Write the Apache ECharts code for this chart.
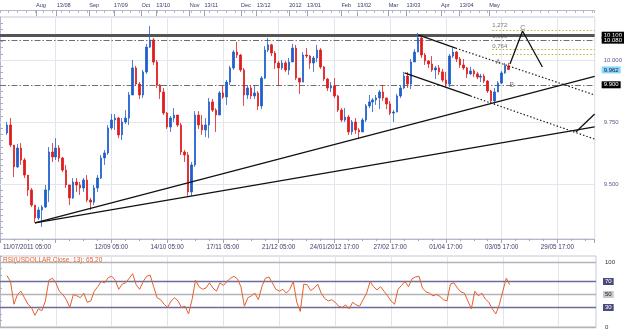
<!DOCTYPE html>
<html><head><meta charset="utf-8">
<script src="https://cdn.jsdelivr.net/npm/echarts@6.0.0/dist/echarts.min.js"></script>
<style>html,body{margin:0;padding:0;background:#fff;}#chart{width:625px;height:332px;}</style>
</head><body><div id="chart"></div>
<script>
// ---------- data (bar index starts at barStart) ----------
const barStart = 2;
const opens = [
9.706,9.738,9.657,9.569,9.645,9.597,9.536,9.476,9.415,9.363,
9.395,9.407,9.476,9.629,9.609,9.645,9.605,9.556,9.496,9.444,
9.508,9.496,9.484,9.516,9.435,9.427,9.484,9.524,9.605,9.625,
9.726,9.758,9.766,9.698,9.750,9.766,9.859,9.968,9.903,9.859,
9.952,10.052,10.081,9.992,9.899,9.871,9.786,9.730,9.766,9.778,
9.738,9.629,9.617,9.468,9.577,9.778,9.738,9.718,9.738,9.831,
9.798,9.778,9.867,9.851,9.911,9.968,10.032,10.020,9.960,9.859,
9.887,9.855,9.867,9.815,9.927,10.040,10.061,10.028,9.988,9.968,
9.988,9.960,9.992,10.048,9.927,9.911,10.020,10.016,9.988,10.008,
10.040,9.972,9.923,9.887,9.895,9.855,9.798,9.758,9.770,9.710,
9.750,9.718,9.710,9.758,9.815,9.831,9.839,9.847,9.871,9.847,
9.823,9.786,9.790,9.855,9.887,9.935,9.903,9.992,10.032,10.089,
10.020,9.996,9.984,9.960,9.968,9.952,9.919,9.903,10.016,10.032,
10.004,9.980,9.968,9.944,9.956,9.944,9.931,9.935,9.915,9.875,
9.835,9.871,9.907,9.948,9.976];
const closes = [
9.738,9.657,9.569,9.645,9.597,9.536,9.476,9.415,9.363,9.395,
9.407,9.476,9.629,9.609,9.645,9.605,9.556,9.496,9.444,9.508,
9.496,9.484,9.516,9.435,9.427,9.484,9.524,9.605,9.625,9.726,
9.758,9.766,9.698,9.750,9.766,9.859,9.968,9.903,9.859,9.952,
10.052,10.081,9.992,9.899,9.871,9.786,9.730,9.766,9.778,9.738,
9.629,9.617,9.468,9.577,9.778,9.738,9.718,9.738,9.831,9.798,
9.778,9.867,9.851,9.911,9.968,10.032,10.020,9.960,9.859,9.887,
9.855,9.867,9.815,9.927,10.040,10.061,10.028,9.988,9.968,9.988,
9.960,9.992,10.048,9.927,9.911,10.020,10.016,9.988,10.008,10.040,
9.972,9.923,9.887,9.895,9.855,9.798,9.758,9.770,9.710,9.750,
9.718,9.710,9.758,9.815,9.831,9.839,9.847,9.871,9.847,9.823,
9.786,9.790,9.855,9.887,9.935,9.903,9.992,10.032,10.089,10.020,
9.996,9.984,9.960,9.968,9.952,9.919,9.903,10.016,10.032,10.004,
9.980,9.968,9.944,9.956,9.944,9.931,9.935,9.915,9.875,9.835,
9.871,9.907,9.948,9.976,9.962];
const lows = [
9.698,9.649,9.528,9.565,9.577,9.524,9.452,9.407,9.343,9.355,
9.327,9.403,9.427,9.589,9.597,9.589,9.548,9.484,9.415,9.440,
9.468,9.456,9.468,9.427,9.395,9.415,9.468,9.520,9.577,9.617,
9.718,9.718,9.685,9.677,9.742,9.738,9.859,9.895,9.843,9.847,
9.944,10.048,9.980,9.887,9.843,9.778,9.722,9.710,9.750,9.730,
9.617,9.589,9.452,9.452,9.569,9.722,9.698,9.690,9.685,9.790,
9.710,9.778,9.843,9.819,9.899,9.960,10.008,9.952,9.815,9.843,
9.843,9.843,9.798,9.802,9.923,10.032,10.016,9.964,9.895,9.960,
9.952,9.940,9.992,9.919,9.863,9.911,10.008,9.964,9.952,9.992,
9.964,9.915,9.875,9.871,9.847,9.790,9.750,9.750,9.698,9.698,
9.702,9.681,9.710,9.750,9.806,9.790,9.819,9.802,9.835,9.802,
9.778,9.750,9.790,9.847,9.883,9.887,9.883,9.992,10.032,10.008,
9.980,9.968,9.952,9.923,9.940,9.911,9.891,9.891,10.008,9.992,
9.968,9.960,9.927,9.940,9.931,9.923,9.911,9.907,9.867,9.823,
9.819,9.871,9.903,9.944,9.960];
const highs = [
9.750,9.766,9.657,9.661,9.665,9.605,9.536,9.484,9.415,9.407,
9.415,9.496,9.649,9.665,9.685,9.657,9.609,9.577,9.496,9.524,
9.524,9.508,9.524,9.536,9.444,9.496,9.536,9.617,9.637,9.738,
9.782,9.782,9.770,9.766,9.798,9.871,10.000,9.976,9.911,9.960,
10.065,10.137,10.089,10.000,9.903,9.887,9.790,9.774,9.806,9.778,
9.746,9.637,9.629,9.589,9.794,9.794,9.778,9.766,9.847,9.843,
9.806,9.875,9.899,9.919,9.976,10.040,10.073,10.024,9.968,9.899,
9.899,9.899,9.875,9.935,10.056,10.089,10.065,10.036,9.996,10.000,
9.996,10.008,10.065,10.061,9.927,10.032,10.048,10.020,10.016,10.061,
10.048,9.976,9.927,9.911,9.927,9.859,9.806,9.806,9.778,9.758,
9.766,9.726,9.766,9.823,9.859,9.847,9.859,9.879,9.899,9.847,
9.835,9.798,9.863,9.899,9.952,9.952,10.004,10.044,10.109,10.097,
10.028,10.000,10.016,9.976,9.980,9.964,9.952,10.024,10.048,10.036,
10.012,10.004,9.972,9.972,9.964,9.952,9.944,9.944,9.919,9.879,
9.887,9.915,9.956,9.988,9.988];
const rsiValues = [
79,70,35,50,55,45,35,30,18,28,
25,40,72,75,68,55,50,42,30,50,
48,45,52,38,40,55,62,70,68,76,
78,72,58,66,68,75,82,65,58,70,
78,80,62,45,42,35,30,40,45,40,
30,32,20,42,72,62,58,60,68,60,
55,68,64,70,75,78,74,62,32,45,
48,52,42,62,75,77,68,58,55,58,
52,58,70,38,24,66,65,56,60,66,
52,44,40,42,38,32,30,34,28,38,
34,32,42,52,70,62,57,62,55,48,
40,35,58,64,70,62,74,77,78,60,
54,52,48,50,47,42,40,66,68,60,
54,52,40,28,55,48,52,43,38,28,
20,34,55,75,65];

// axis ticks / labels
const xMax = 170.7;
const gridStep = 16;
const bottomTickLabels = ['11/07/2011 05:00','','12/09 05:00','14/10 05:00','17/11 05:00','21/12 05:00','24/01/2012 17:00','27/02 17:00','01/04 17:00','03/05 17:00','29/05 17:00'];
const topTickBars = [10.34,16.28,25.61,32.68,40.60,44.84,54.46,58.70,69.16,73.69,83.02,88.11,98.01,102.53,111.58,116.67,126.57,131.94,140.43];
const topTickLabels = ['Aug','13/08','Sep','17/09','Oct','13/10','Nov','13/11','Dec','13/12','2012','13/01','Feb','13/02','Mar','13/03','Apr','13/04','May'];
const priceMin = 9.2782, priceMax = 10.1734;
const priceTickLabels = [9.5, 9.75, 10.0];
const rsiLevels = [100, 70, 50, 30, 0];
const rsiTitle = 'RSI(USDOLLAR,Close, 13): 65,20';

// levels and drawn objects
const resistance = 10.100;
const dashedLevels = [10.080, 9.900];
const lastPrice = 9.962;
const fibStart = 141.3;
const fibLevels = [10.121, 10.044, 10.024];
const fibNames = ['1,272', '1,000', '0,764'];
const fibNamePrices = [10.141, 10.094, 10.057];
const waveNames = ['A', 'B', 'C'];
const wavePoints = [[142.98, 9.992], [146.9, 9.899], [150.05, 10.127]];
const solidLines = [
  [[10.06, 9.343], [170.7, 9.934]],
  [[10.06, 9.343], [170.7, 9.730]],
  [[120.07, 10.101], [130.8, 10.048]],
  [[116.1, 9.948], [135.1, 9.855]],
  [[165.3, 9.710], [170.7, 9.782]],
  [[146.4, 9.984], [150.0, 10.117], [155.7, 9.972]]
];
const dottedLines = [
  [[130.8, 10.048], [170.7, 9.859]],
  [[135.1, 9.855], [170.7, 9.681]]
];

// ---------- chart ----------
const FONT = 'Liberation Sans';
const AX = '#3c3c6c';
const chart = echarts.init(document.getElementById('chart'));
const candleData = opens.map((o, k) => [barStart + k, o, closes[k], lows[k], highs[k]]);
const rsiData = rsiValues.map((v, k) => [barStart + k, v]);
const priceTicks = [];
for (let t = 9.3; t < 10.17; t += 0.025) priceTicks.push(+t.toFixed(3));

function boxLabel(text, bg, fg) {
  return {show: true, position: 'end', distance: 7, formatter: text, fontSize: 6, fontFamily: FONT,
    color: fg, backgroundColor: bg, padding: [1, 2, 0, 2]};
}
const markData = [];
priceTickLabels.forEach(v => markData.push({yAxis: v, lineStyle: {color: '#e3e5ef', width: 1, type: 'solid'}, label: {show: false}}));
fibLevels.forEach(v => markData.push([{coord: [fibStart, v], lineStyle: {color: '#b9b13c', width: 1, type: [1.5, 2]}, label: {show: false}}, {coord: [xMax, v]}]));
markData.push({yAxis: resistance, lineStyle: {color: '#555555', width: 3, type: 'solid'}, label: boxLabel('10.100', '#000', '#fff')});
markData.push({yAxis: dashedLevels[0], lineStyle: {color: '#707070', width: 1, type: [6, 2, 1.5, 2]}, label: boxLabel('10.080', '#000', '#fff')});
markData.push({yAxis: dashedLevels[1], lineStyle: {color: '#707070', width: 1, type: [6, 2, 1.5, 2]}, label: boxLabel('9.900', '#000', '#fff')});
markData.push({yAxis: lastPrice, lineStyle: {color: 'rgba(0,0,0,0)', width: 0}, label: boxLabel('9.962', '#8ad6fb', '#102040')});

const rsiMark = rsiLevels.map(v => {
  const blue = (v === 70 || v === 30);
  let lab;
  if (blue) lab = boxLabel(String(v), '#4a4a7c', '#ffffff');
  else if (v === 50) lab = boxLabel(String(v), '#c8c8cc', '#202020');
  else lab = boxLabel(String(v), 'transparent', '#303030');
  return {yAxis: v, lineStyle: {color: blue ? '#6c6c9e' : '#b4b4b8', width: 1.3, type: 'solid'}, label: lab};
});

const series = [
  {type: 'candlestick', xAxisIndex: 0, yAxisIndex: 0, data: candleData, barWidth: 2.0,
   encode: {x: 0, y: [1, 2, 3, 4]},
   itemStyle: {color: '#1f5fcc', color0: '#e01c1c', borderColor: '#1f5fcc', borderColor0: '#e01c1c', borderWidth: 0.8},
   z: 3,
   markLine: {silent: true, symbol: ['none', 'none'], animation: false, data: markData, z: 2}
  },
  {type: 'line', xAxisIndex: 3, yAxisIndex: 1, data: rsiData, symbol: 'none', z: 3,
   lineStyle: {color: '#e6602a', width: 1},
   markLine: {silent: true, symbol: ['none', 'none'], animation: false, data: rsiMark, z: 2}
  }
];
solidLines.forEach(pts => series.push({type: 'line', xAxisIndex: 0, yAxisIndex: 0, data: pts, symbol: 'none', silent: true, z: 5,
  lineStyle: {color: '#111111', width: 1.3}}));
dottedLines.forEach(pts => series.push({type: 'line', xAxisIndex: 0, yAxisIndex: 0, data: pts, symbol: 'none', silent: true, z: 5,
  lineStyle: {color: '#222222', width: 1.2, type: [1.5, 2]}}));
series.push({type: 'scatter', xAxisIndex: 0, yAxisIndex: 0, symbolSize: 0, silent: true, z: 6,
  data: fibNamePrices.map((v, k) => ({value: [fibStart, v], name: fibNames[k]})),
  label: {show: true, position: 'right', distance: 0, formatter: p => p.name, fontSize: 6, fontFamily: FONT, color: '#505050'}});
series.push({type: 'scatter', xAxisIndex: 0, yAxisIndex: 0, symbolSize: 0, silent: true, z: 6,
  data: wavePoints.map((p, k) => ({value: p, name: waveNames[k]})),
  label: {show: true, position: 'inside', formatter: p => p.name, fontSize: 7, fontFamily: FONT, color: '#555555'}});

const option = {
  animation: false,
  backgroundColor: '#ffffff',
  textStyle: {fontFamily: FONT},
  title: {text: rsiTitle, left: 3, top: 257, padding: 0,
    textStyle: {fontSize: 6.5, fontWeight: 'normal', color: '#e2622c', fontFamily: FONT}},
  grid: [
    {left: -7.56, right: 29, top: 17, bottom: 93, show: true, borderColor: '#c4c8d8', borderWidth: 1},
    {left: -7.56, right: 29, top: 256, bottom: 5, show: true, borderColor: '#c4c8d8', borderWidth: 1}
  ],
  xAxis: [
    {type: 'value', gridIndex: 0, min: 0, max: xMax, interval: gridStep, position: 'bottom',
     axisLine: {show: true, lineStyle: {color: '#b4b8cc'}},
     axisTick: {show: true, length: 4, lineStyle: {color: '#9ea2ba'}},
     minorTick: {show: true, splitNumber: 4, length: 2, lineStyle: {color: '#9ea2ba'}},
     splitLine: {show: true, lineStyle: {color: '#e2e4ee', width: 1}},
     axisLabel: {show: true, fontSize: 6.3, color: AX, margin: 5, fontFamily: FONT, hideOverlap: false,
       showMaxLabel: false, alignMinLabel: 'left',
       formatter: (v, i) => {
         const t = i < bottomTickLabels.length ? bottomTickLabels[i] : '';
         if (!t) return '';
         return i === 0 ? '{f|' + t + '}' : t;
       },
       rich: {f: {padding: [0, 0, 0, 3], fontSize: 6.3, color: AX, fontFamily: FONT}}}
    },
    {type: 'value', gridIndex: 0, min: 0, max: xMax, position: 'top', offset: 7,
     axisLine: {show: true, lineStyle: {color: '#b4b8cc'}},
     axisTick: {show: true, inside: true, length: 6, customValues: topTickBars, lineStyle: {color: '#9ea2ba'}},
     splitLine: {show: false},
     axisLabel: {show: true, customValues: topTickBars, fontSize: 5.6, color: AX, margin: 2, align: 'left', fontFamily: FONT,
       formatter: v => { const k = topTickBars.indexOf(v); return k >= 0 ? topTickLabels[k] : ''; }}
    },
    {type: 'value', gridIndex: 0, min: 0, max: xMax, interval: 2.5, position: 'top', offset: 7,
     axisLine: {show: false}, axisLabel: {show: false}, splitLine: {show: false},
     axisTick: {show: true, inside: true, length: 3, lineStyle: {color: '#b4b8cc'}}
    },
    {type: 'value', gridIndex: 1, min: 0, max: xMax, interval: gridStep,
     axisLine: {show: false}, axisTick: {show: false}, axisLabel: {show: false},
     splitLine: {show: true, lineStyle: {color: '#e2e4ee', width: 1}}
    }
  ],
  yAxis: [
    {type: 'value', gridIndex: 0, min: priceMin, max: priceMax, position: 'right', offset: 6, scale: true,
     axisLine: {show: true, lineStyle: {color: '#b4b8cc'}},
     axisTick: {show: true, length: 3, customValues: priceTicks, lineStyle: {color: '#a8acc4'}},
     splitLine: {show: false},
     axisLabel: {show: true, customValues: priceTickLabels, fontSize: 6, color: '#5a5a90', margin: 3, fontFamily: FONT,
       formatter: v => v.toFixed(3)}
    },
    {type: 'value', gridIndex: 1, min: 0, max: 109.23, interval: 10, position: 'right', offset: 6,
     axisLine: {show: true, lineStyle: {color: '#b4b8cc'}},
     axisTick: {show: true, length: 2, lineStyle: {color: '#a8acc4'}},
     splitLine: {show: false}, axisLabel: {show: false}
    }
  ],
  series: series
};
chart.setOption(option);
</script></body></html>
